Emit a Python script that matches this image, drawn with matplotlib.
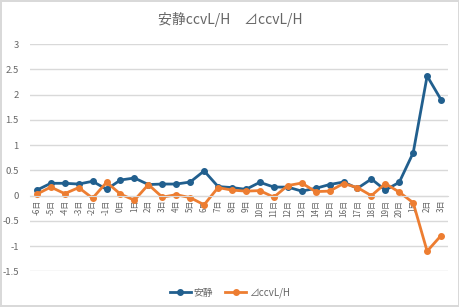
import numpy as np
import matplotlib.pyplot as plt

plt.rcParams['font.family'] = ['Noto Sans CJK JP', 'DejaVu Sans']

days = ['-6日', '-5日', '-4日', '-3日', '-2日', '-1日', '0日', '1日', '2日', '3日',
        '4日', '5日', '6日', '7日', '8日', '9日', '10日', '11日', '12日', '13日',
        '14日', '15日', '16日', '17日', '18日', '19日', '20日', '1日', '2日', '3日']
ansei = [0.11, 0.245, 0.245, 0.23, 0.285, 0.125, 0.31, 0.35, 0.22, 0.23,
         0.23, 0.27, 0.49, 0.18, 0.16, 0.125, 0.265, 0.17, 0.17, 0.09,
         0.145, 0.22, 0.27, 0.145, 0.33, 0.11, 0.265, 0.85, 2.37, 1.9]
delta = [0.03, 0.17, 0.04, 0.16, -0.05, 0.265, 0.03, -0.09, 0.22, -0.03,
         0.02, -0.04, -0.18, 0.16, 0.11, 0.09, 0.10, -0.03, 0.2, 0.25,
         0.08, 0.09, 0.24, 0.16, 0.0, 0.24, 0.07, -0.14, -1.1, -0.79]

blue = '#215F8E'
orange = '#ED7D31'
gray = '#666666'

fig = plt.figure(figsize=(4.6, 3.07), dpi=100)
fig.patch.set_edgecolor('#D9D9D9')
fig.patch.set_linewidth(1.5)
ax = fig.add_axes([0.065, 0.116, 0.909, 0.74])

x = np.arange(len(days))
ax.plot(x, ansei, color=blue, lw=2, marker='o', ms=4, label='安静')
ax.plot(x, delta, color=orange, lw=2, marker='o', ms=4, label='⊿ccvL/H')

ax.set_xlim(-0.5, len(days) - 0.5)
ax.set_ylim(-1.5, 3)
ax.set_yticks(np.arange(-1.5, 3.01, 0.5))
ax.set_yticklabels(['-1.5', '-1', '-0.5', '0', '0.5', '1', '1.5', '2', '2.5', '3'])
ax.yaxis.grid(True, color='#D9D9D9', lw=1)
ax.set_axisbelow(True)
for s in ['top', 'right', 'left']:
    ax.spines[s].set_visible(False)
ax.spines['bottom'].set_position(('data', 0))
ax.spines['bottom'].set_color('#D9D9D9')
ax.set_xticks(x)
ax.set_xticklabels(days, rotation=90, fontsize=5.8, color=gray)
ax.tick_params(axis='x', length=0, pad=3)
ax.tick_params(axis='y', length=0, labelsize=6.8, labelcolor=gray, pad=8)

fig.suptitle('安静ccvL/H　⊿ccvL/H', y=0.96, fontsize=10, color=gray)
fig.legend(loc='lower center', bbox_to_anchor=(0.5, 0.0), ncol=2, frameon=False,
           fontsize=7, labelcolor=gray, handlelength=2.2, handletextpad=0.3,
           columnspacing=1.2)

fig.savefig('out.png', dpi=100)
